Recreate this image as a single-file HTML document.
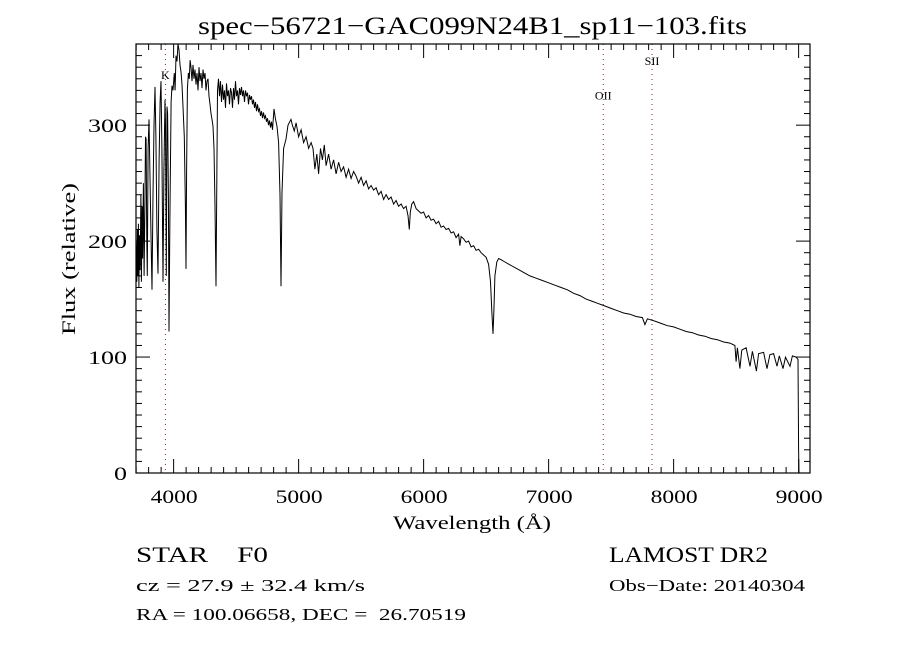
<!DOCTYPE html>
<html><head><meta charset="utf-8"><title>spec-56721-GAC099N24B1_sp11-103.fits</title>
<style>
html,body{margin:0;padding:0;background:#fff;}
svg{display:block;font-family:"Liberation Serif",serif;}
text{white-space:pre;}
</style></head>
<body>
<svg id="chart" width="900" height="650" viewBox="0 0 900 650" xmlns="http://www.w3.org/2000/svg">
<rect x="0" y="0" width="900" height="650" fill="#fff"/>
<text x="198" y="34" font-size="25" textLength="549" lengthAdjust="spacingAndGlyphs" fill="#000">spec−56721−GAC099N24B1_sp11−103.fits</text>
<g id="lines"></g>
<g id="ticks"></g>
<path id="spec" fill="none" stroke="#000" stroke-width="1"/>
<rect x="136" y="44" width="674" height="429" fill="none" stroke="#000" stroke-width="1.2"/>
<text x="393" y="529" font-size="19" textLength="158" lengthAdjust="spacingAndGlyphs">Wavelength (Å)</text>
<text transform="translate(75,335) rotate(-90)" font-size="19" textLength="152" lengthAdjust="spacingAndGlyphs">Flux (relative)</text>
<text x="136" y="562" font-size="22" textLength="132" lengthAdjust="spacingAndGlyphs">STAR    F0</text>
<text x="136" y="591" font-size="17" textLength="229" lengthAdjust="spacingAndGlyphs">cz = 27.9 ± 32.4 km/s</text>
<text x="136" y="620" font-size="17" textLength="330" lengthAdjust="spacingAndGlyphs">RA = 100.06658, DEC =  26.70519</text>
<text x="609" y="562" font-size="22" textLength="159" lengthAdjust="spacingAndGlyphs">LAMOST DR2</text>
<text x="609" y="591" font-size="17" textLength="196" lengthAdjust="spacingAndGlyphs">Obs−Date: 20140304</text>
</svg>
<script>
const wl = [3700,3705,3710,3714,3718,3722,3727,3732,3738,3742,3748,3752,3758,3764,3770,3775,3780,3785,3789,3796,3803,3810,3820,3827,3835,3843,3851,3858,3866,3875,3884,3892,3899,3906,3915,3922,3931,3935,3941,3947,3952,3958,3963,3970,3980,3987,3995,4005,4012,4019,4027,4035,4043,4051,4059,4067,4075,4085,4094,4099,4104,4110,4118,4125,4132,4139,4147,4155,4163,4171,4179,4187,4195,4203,4211,4219,4227,4235,4243,4251,4259,4267,4275,4283,4291,4299,4307,4315,4323,4331,4339,4345,4351,4359,4367,4375,4383,4391,4399,4407,4415,4423,4431,4439,4447,4455,4463,4471,4479,4487,4495,4503,4511,4519,4527,4535,4543,4551,4559,4567,4575,4583,4591,4599,4607,4615,4623,4631,4639,4647,4655,4663,4671,4679,4687,4695,4703,4711,4719,4727,4735,4743,4751,4759,4767,4775,4783,4791,4803,4815,4827,4840,4851,4859,4867,4880,4899,4915,4939,4950,4965,4980,5000,5020,5040,5060,5080,5100,5115,5130,5145,5160,5175,5190,5205,5220,5240,5260,5280,5300,5320,5340,5360,5380,5400,5420,5440,5460,5480,5500,5520,5540,5560,5580,5600,5620,5640,5660,5680,5700,5720,5740,5760,5780,5800,5820,5840,5860,5875,5885,5893,5905,5920,5940,5960,5980,6000,6020,6040,6060,6080,6100,6120,6140,6160,6180,6200,6220,6240,6260,6280,6290,6300,6320,6340,6360,6380,6400,6420,6440,6460,6480,6500,6520,6535,6545,6555,6562,6570,6585,6600,6620,6650,6700,6750,6800,6850,6900,6950,7000,7050,7100,7150,7200,7250,7300,7350,7400,7450,7500,7550,7600,7650,7700,7750,7770,7790,7850,7900,7950,8000,8050,8100,8150,8200,8250,8300,8350,8400,8450,8490,8500,8510,8530,8545,8580,8611,8630,8662,8680,8720,8747,8770,8800,8827,8845,8875,8895,8931,8950,8980,8995,9000,9003];
const flux = [200,165,210,170,215,160,205,175,240,165,230,185,250,170,230,290,288,200,170,280,305,260,200,158,240,300,333,290,210,172,270,320,338,280,165,260,322,300,170,316,310,240,122,220,320,334,330,345,330,360,355,371,365,352,346,335,316,290,230,176,260,331,345,340,356,350,338,352,340,348,335,345,330,350,338,345,332,348,340,345,330,338,340,325,318,310,305,299,280,230,161,250,330,340,325,338,320,335,322,330,315,336,325,330,318,332,328,315,332,322,338,325,330,318,332,326,333,325,330,320,330,325,328,318,326,322,325,318,322,315,320,312,318,312,314,308,312,306,311,306,308,303,306,300,304,298,303,296,314,305,299,285,240,161,242,280,288,300,305,300,295,302,290,296,285,290,280,285,280,262,275,258,280,270,283,265,275,262,270,258,268,260,264,255,262,254,260,256,250,255,248,252,245,248,244,246,240,243,236,240,236,238,232,235,230,232,228,230,222,210,225,232,234,228,226,224,225,220,222,218,219,215,217,212,213,210,211,207,208,203,206,196,204,202,199,200,195,196,192,193,190,188,186,180,165,140,120,140,170,182,185,184,182,179,176,173,170,168,166,164,162,160,158,155,153,150,148,146,144,142,140,138,137,135,134,128,133,131,129,127,126,124,122,121,119,118,116,115,113,112,110,96,108,90,106,108,92,105,88,103,104,90,102,103,92,101,90,100,92,101,100,98,20,0];
const xTicks = [4000,5000,6000,7000,8000,9000];
const yTicks = [0,100,200,300];
const markerWl = [3934,7437,7827];
const markerLabels = ["K","OII","SII"];
const markerLabelFlux = [340,322,352];

const X0=136,X1=810,Y0=473,Y1=44, WMIN=3699, WMAX=9091, FMIN=0, FMAX=370;
function xs(w){return X0+(w-WMIN)/(WMAX-WMIN)*(X1-X0);}
function ys(f){return Y0-(f-FMIN)/(FMAX-FMIN)*(Y0-Y1);}
const NS="http://www.w3.org/2000/svg";
const svg=document.getElementById('chart');

let d="";
for(let i=0;i<wl.length;i++){d+=(i?"L":"M")+xs(wl[i]).toFixed(1)+","+ys(Math.max(FMIN,Math.min(FMAX,flux[i]))).toFixed(1);}
document.getElementById('spec').setAttribute('d',d);

const tg=document.getElementById('ticks');
for(let w=3700;w<=9090;w+=100){
  const major=(w%1000===0);
  const len=major?14:6;
  const x=xs(w);
  const a=document.createElementNS(NS,'line');
  a.setAttribute('x1',x);a.setAttribute('x2',x);a.setAttribute('y1',Y0);a.setAttribute('y2',Y0-len);
  a.setAttribute('stroke','#000');
  
  
  tg.appendChild(a);
  const b=document.createElementNS(NS,'line');
  b.setAttribute('x1',x);b.setAttribute('x2',x);b.setAttribute('y1',Y1);b.setAttribute('y2',Y1+len);
  b.setAttribute('stroke','#000');
  
  
  tg.appendChild(b);
}
xTicks.forEach(function(w){
  const t=document.createElementNS(NS,'text');
  t.setAttribute('x',xs(w)-23);t.setAttribute('y',503);t.setAttribute('font-size','19');
  t.setAttribute('textLength','47');t.setAttribute('lengthAdjust','spacingAndGlyphs');
  t.textContent=String(w);
  
  
  svg.appendChild(t);
});
for(let f=0;f<=FMAX;f+=10){
  const major=(f%100===0);
  const len=major?14:6;
  const y=ys(f);
  const a=document.createElementNS(NS,'line');
  a.setAttribute('x1',X0);a.setAttribute('x2',X0+len);a.setAttribute('y1',y);a.setAttribute('y2',y);
  a.setAttribute('stroke','#000');
  
  
  tg.appendChild(a);
  const b=document.createElementNS(NS,'line');
  b.setAttribute('x1',X1);b.setAttribute('x2',X1-len);b.setAttribute('y1',y);b.setAttribute('y2',y);
  b.setAttribute('stroke','#000');
  
  
  tg.appendChild(b);
}
yTicks.forEach(function(f){
  const t=document.createElementNS(NS,'text');
  const s=String(f);
  const w=s.length*13;
  t.setAttribute('x',127-w);t.setAttribute('y',ys(f)+7);t.setAttribute('font-size','19');
  t.setAttribute('textLength',String(w));t.setAttribute('lengthAdjust','spacingAndGlyphs');
  t.textContent=s;
  
  
  svg.appendChild(t);
});
const lg=document.getElementById('lines');
markerWl.forEach(function(w,i){
  const x=xs(w);
  const l=document.createElementNS(NS,'line');
  l.setAttribute('x1',x);l.setAttribute('x2',x);l.setAttribute('y1',Y1);l.setAttribute('y2',Y0);
  l.setAttribute('stroke','#8b2020');l.setAttribute('stroke-dasharray','1,4');
  
  
  lg.appendChild(l);
  const t=document.createElementNS(NS,'text');
  t.setAttribute('x',x);t.setAttribute('y',ys(markerLabelFlux[i]));t.setAttribute('font-size','12');t.setAttribute('text-anchor','middle');
  t.textContent=markerLabels[i];
  
  
  lg.appendChild(t);
});
</script>
</body></html>
